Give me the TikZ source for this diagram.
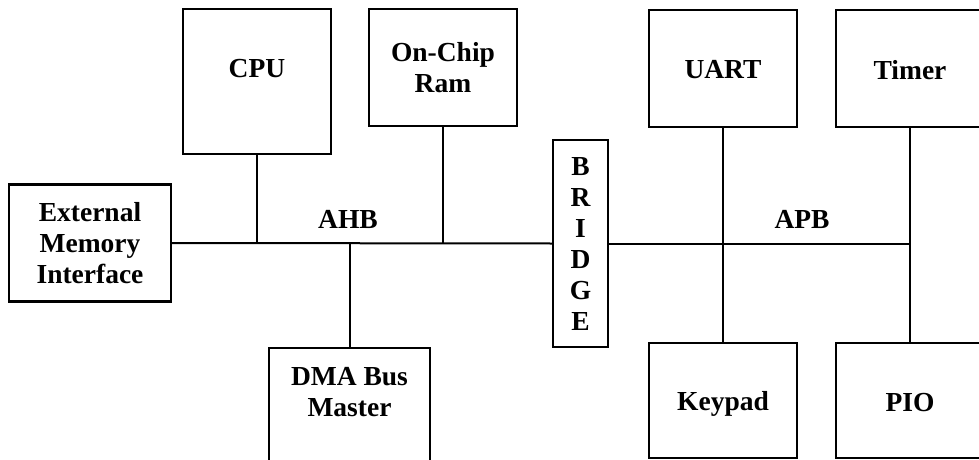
\documentclass[tikz,border=0pt]{standalone}
\usepackage{fontspec}
\setmainfont{Liberation Serif}
\begin{document}
\begin{tikzpicture}[x=1pt,y=-1pt,
  box/.style={draw=black,line width=2.2pt,fill=white,inner sep=0pt,align=center,
    font=\fontsize{27.5}{31}\selectfont\bfseries},
  lbl/.style={inner sep=0pt,align=center,font=\fontsize{27.5}{31}\selectfont\bfseries},
  wire/.style={draw=black,line width=2pt}]
\useasboundingbox (0,0) rectangle (979,460);
% boxes
\node[box,minimum width=148,minimum height=145] (cpu) at (257,81.5) {};
\node[lbl] (cput) at (257,69) {CPU};
\node[box,minimum width=148,minimum height=117] (ram) at (443,67.5) {On-Chip\\Ram};
\node[box,minimum width=148,minimum height=117] (uart) at (723,68.5) {};
\node[lbl] (uartt) at (723,70) {UART};
\node[box,minimum width=148,minimum height=117] (timer) at (910,68.5) {};
\node[lbl] (timert) at (910,70) {Timer};
\node[box,minimum width=162,minimum height=117] (emi) at (90,243) {External\\Memory\\Interface};
\node[box,minimum width=55,minimum height=207] (bridge) at (580.5,243.5) {B\\R\\I\\D\\G\\E};
\node[box,minimum width=161,minimum height=130,anchor=north] (dma) at (349.5,347) {};
\node[lbl] (dmat) at (349.5,392) {DMA Bus\\Master};
\node[box,minimum width=148,minimum height=115] (keypad) at (723,400.5) {};
\node[lbl] (keypadt) at (723,404) {Keypad};
\node[box,minimum width=148,minimum height=115] (pio) at (910,400.5) {};
\node[lbl] (piot) at (910,403) {PIO};
% bus labels
\node[lbl] (ahb) at (348,219) {AHB};
\node[lbl] (apb) at (802,219) {APB};
% wires
\draw[wire] (emi.east) -- (bridge.west);
\draw[wire] (cpu.south) -- (cpu.south |- emi.east);
\draw[wire] (ram.south) -- (ram.south |- emi.east);
\draw[wire] (dma.north) -- (dma.north |- emi.east);
\draw[wire] (bridge.east) -- (timer.south |- bridge.east);
\draw[wire] (uart.south) -- (keypad.north);
\draw[wire] (timer.south) -- (pio.north);
\end{tikzpicture}
\end{document}
